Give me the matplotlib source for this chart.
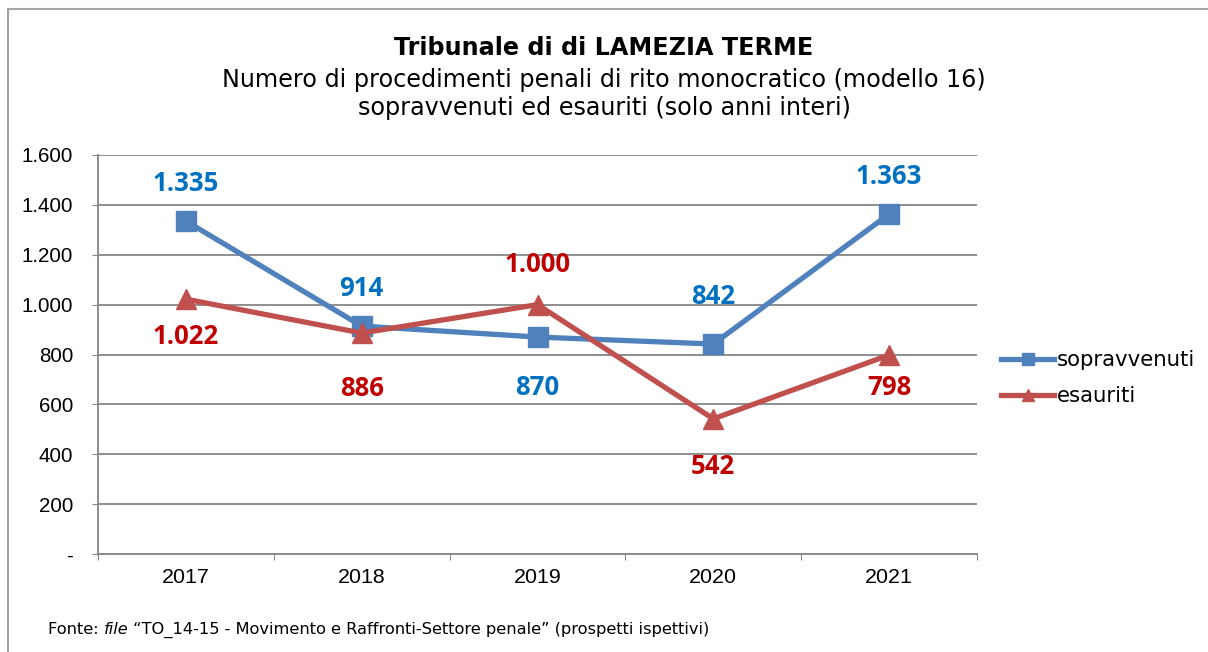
import matplotlib.pyplot as plt
from matplotlib.patches import Rectangle
import numpy as np

anni = ["2017", "2018", "2019", "2020", "2021"]
sopravvenuti = [1335, 914, 870, 842, 1363]
esauriti = [1022, 886, 1000, 542, 798]
etichette_sopr = ["1.335", "914", "870", "842", "1.363"]
etichette_esau = ["1.022", "886", "1.000", "542", "798"]
yticks = [0, 200, 400, 600, 800, 1000, 1200, 1400, 1600]
ytick_labels = ["-", "200", "400", "600", "800", "1.000", "1.200", "1.400", "1.600"]

# scostamento delle etichette (pixel, positivo = sopra)
off_sopr = [38, 38, -50, 48, 38]
off_esau = [-37, -55, 40, -48, -33]

blu = "#4F81BD"
rosso = "#C0504D"
blu_lab = "#0070C0"
rosso_lab = "#C00000"
grigio = "#868686"

fig = plt.figure(figsize=(12.08, 6.52), dpi=100)
ax = fig.add_axes([98 / 1208, 1 - 554 / 652, 879 / 1208, 399 / 652])

# cornice
fig.patches.append(Rectangle((8 / 1208, -0.1), 1.2, 1 - 9 / 652 + 0.1,
                             transform=fig.transFigure, fill=False,
                             edgecolor="#a6a6a6", linewidth=1.5))

x = np.arange(len(anni)) + 0.5
ax.plot(x, sopravvenuti, color=blu, lw=3.8, marker="s", ms=14.5, label="sopravvenuti",
        solid_joinstyle="round", zorder=3)
ax.plot(x, esauriti, color=rosso, lw=3.8, marker="^", ms=14.5, label="esauriti",
        solid_joinstyle="round", zorder=3)

for xi, v, t, o in zip(x, sopravvenuti, etichette_sopr, off_sopr):
    ax.annotate(t, (xi, v), xytext=(0, o), textcoords="offset pixels",
                ha="center", va="center", color=blu_lab, fontsize=18.5,
                fontweight="bold", family="Open Sans")
for xi, v, t, o in zip(x, esauriti, etichette_esau, off_esau):
    ax.annotate(t, (xi, v), xytext=(0, o), textcoords="offset pixels",
                ha="center", va="center", color=rosso_lab, fontsize=18.5,
                fontweight="bold", family="Open Sans")

ax.set_xlim(0, 5)
ax.set_ylim(0, 1600)
ax.set_yticks(yticks)
ax.set_yticklabels(ytick_labels, family="Liberation Sans", fontsize=14.8)
ax.set_xticks(np.arange(6))
ax.set_xticklabels([])
ax.set_xticks(x, minor=True)
ax.set_xticklabels(anni, minor=True, family="Liberation Sans", fontsize=15.4)
ax.tick_params(axis="x", which="minor", length=0, pad=10)
ax.tick_params(axis="x", which="major", length=4.3, color=grigio, direction="out")
ax.tick_params(axis="y", length=4.3, color=grigio, pad=13.7)
ax.grid(axis="y", color=grigio, lw=1.3)
ax.set_axisbelow(True)
for s in ["top", "right"]:
    ax.spines[s].set_visible(False)
for s in ["left", "bottom"]:
    ax.spines[s].set_color(grigio)
    ax.spines[s].set_linewidth(1.3)

leg = ax.legend(loc="center left", bbox_to_anchor=(1001 / 1208, 1 - 378 / 652),
                bbox_transform=fig.transFigure, frameon=False,
                prop={"family": "DejaVu Sans", "size": 15.3},
                handlelength=2.5, handletextpad=0.12, labelspacing=0.75,
                markerscale=0.55, borderpad=0, borderaxespad=0)

fig.text(0.5, 1 - 48 / 652, "Tribunale di di LAMEZIA TERME", ha="center", va="center",
         fontsize=17.2, fontweight="bold", family="DejaVu Sans")
fig.text(0.5, 1 - 80 / 652, "Numero di procedimenti penali di rito monocratico (modello 16)",
         ha="center", va="center", fontsize=17.2, family="DejaVu Sans")
fig.text(0.5, 1 - 108 / 652, "sopravvenuti ed esauriti (solo anni interi)",
         ha="center", va="center", fontsize=17.2, family="DejaVu Sans")

fs_fonte = 11.7
t1 = fig.text(48 / 1208, 1 - 630 / 652, "Fonte: ", ha="left", va="center",
              fontsize=fs_fonte, family="DejaVu Sans")
t2 = fig.text(0, 0, "file", fontsize=fs_fonte, family="DejaVu Sans", style="italic")
t3 = fig.text(0, 0, " \u201cTO_14-15 - Movimento e Raffronti-Settore penale\u201d (prospetti ispettivi)",
              fontsize=fs_fonte, family="DejaVu Sans")
fig.canvas.draw()
r = fig.canvas.get_renderer()
bb1 = t1.get_window_extent(r)
t2.set_position(((bb1.x1) / 1208, 1 - 630 / 652))
t2.set_va("center")
fig.canvas.draw()
bb2 = t2.get_window_extent(r)
t3.set_position(((bb2.x1) / 1208, 1 - 630 / 652))
t3.set_va("center")

fig.savefig("out.png", dpi=100)
